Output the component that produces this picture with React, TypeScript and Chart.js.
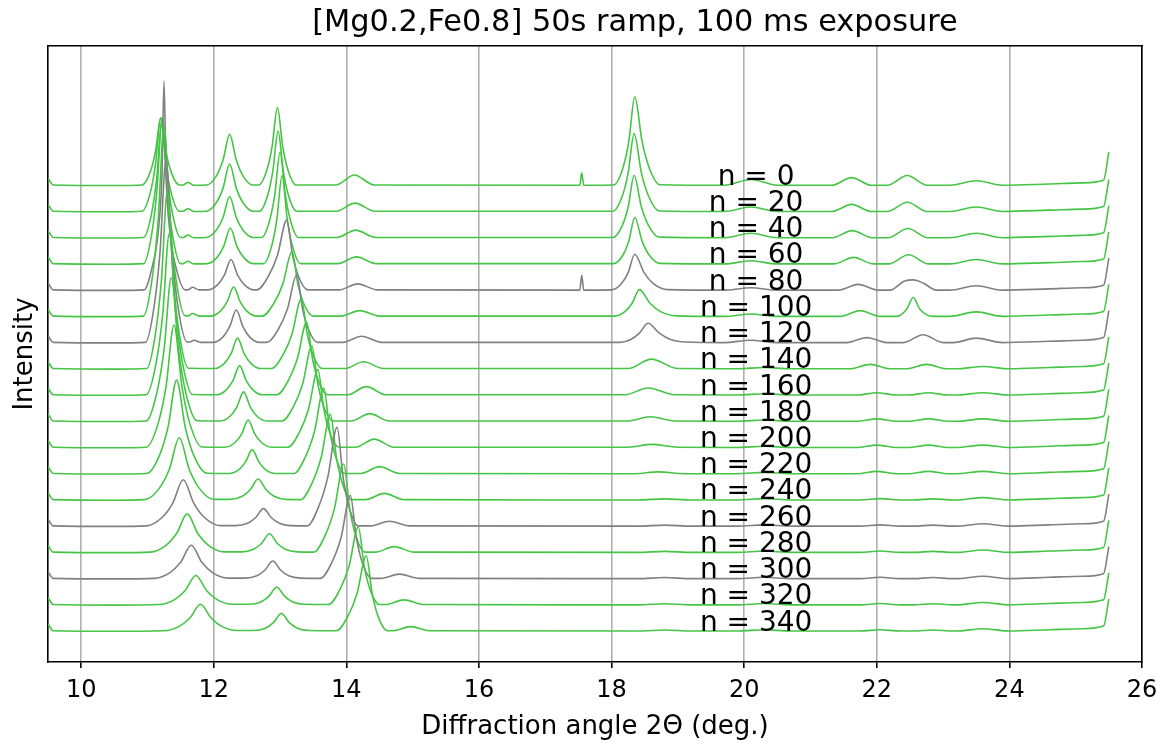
import { useEffect, useRef } from 'react';
import { Chart, registerables } from 'chart.js';

Chart.register(...registerables);

// ---------------- data ----------------
const titleText = '[Mg0.2,Fe0.8] 50s ramp, 100 ms exposure';
const xTitle = 'Diffraction angle 2\u0398 (deg.)';
const yTitle = 'Intensity';

const nValues = [0, 20, 40, 60, 80, 100, 120, 140, 160, 180, 200, 220, 240, 260, 280, 300, 320, 340];
const grayN = [80, 120, 260, 300];
const xTicks = [10, 12, 14, 16, 18, 20, 22, 24, 26];
const xTickLabels = ['10', '12', '14', '16', '18', '20', '22', '24', '26'];
const labelX = 20.18;

// shared start / end of every pattern
const lead = [[9.5, 0.3], [9.58, 0.04], [10.5, 0.02]];
const tail = [[24.6, 0.08], [25.1, 0.12], [25.42, 0.22], [25.5, 1.25]];
// small high-angle bumps of the later patterns
const highMid = [[19.9, 0.03], [20.3, 0.08], [20.7, 0.03], [21.7, 0.03], [22.0, 0.12], [22.3, 0.03], [22.48, 0.03], [22.78, 0.12], [23.08, 0.03], [23.2, 0.03], [23.6, 0.12], [24.0, 0.03]];
const highLate = [[18.4, 0.03], [18.8, 0.07], [19.2, 0.03], [19.9, 0.03], [20.3, 0.08], [20.7, 0.03], [21.75, 0.03], [22.05, 0.08], [22.35, 0.03], [22.55, 0.03], [22.85, 0.07], [23.15, 0.03], [23.2, 0.03], [23.6, 0.12], [24.0, 0.03]];

const trace0 = [...lead,
  [10.92, 0.04], [11.04, 0.52], [11.12, 1.3], [11.2, 2.6], [11.28, 1.3], [11.36, 0.52], [11.48, 0.04],
  [11.54, 0.04], [11.61, 0.14], [11.7, 0.03],
  [11.89, 0.04], [12.04, 0.39], [12.14, 0.99], [12.24, 1.97], [12.34, 0.99], [12.44, 0.39], [12.59, 0.04],
  [12.68, 0.04], [12.8, 0.6], [12.88, 1.5], [12.96, 3.0], [13.04, 1.5], [13.12, 0.6], [13.24, 0.04],
  [13.84, 0.04], [14.12, 0.42], [14.42, 0.04],
  [17.52, 0.03], [17.55, 0.5], [17.58, 0.03],
  [18.03, 0.04], [18.17, 0.68], [18.26, 1.7], [18.35, 3.4], [18.46, 1.7], [18.57, 0.68], [18.73, 0.05],
  [19.7, 0.03], [20.1, 0.25], [20.5, 0.03],
  [21.32, 0.03], [21.62, 0.32], [21.92, 0.03],
  [22.16, 0.03], [22.46, 0.4], [22.76, 0.03],
  [23.1, 0.03], [23.5, 0.2], [23.9, 0.03],
  [24.6, 0.08], [25.1, 0.12], [25.42, 0.22], [25.5, 1.3]];

const trace20 = [...lead,
  [10.92, 0.04], [11.04, 0.72], [11.12, 1.8], [11.2, 3.6], [11.28, 1.8], [11.36, 0.72], [11.48, 0.04],
  [11.54, 0.04], [11.61, 0.14], [11.7, 0.03],
  [11.89, 0.04], [12.04, 0.37], [12.14, 0.92], [12.24, 1.84], [12.34, 0.92], [12.44, 0.37], [12.59, 0.04],
  [12.69, 0.04], [12.81, 0.62], [12.89, 1.55], [12.97, 3.1], [13.05, 1.55], [13.13, 0.62], [13.25, 0.04],
  [13.85, 0.04], [14.13, 0.35], [14.43, 0.04],
  [18.02, 0.04], [18.16, 0.6], [18.25, 1.5], [18.34, 3.0], [18.45, 1.5], [18.56, 0.6], [18.72, 0.05],
  [19.7, 0.03], [20.1, 0.2], [20.5, 0.03],
  [21.32, 0.03], [21.62, 0.3], [21.92, 0.03],
  [22.16, 0.03], [22.46, 0.38], [22.76, 0.03],
  [23.1, 0.03], [23.5, 0.2], [23.9, 0.03],
  ...tail];

const trace40 = [...lead,
  [10.94, 0.04], [11.06, 0.92], [11.14, 2.3], [11.22, 4.6], [11.3, 2.3], [11.38, 0.92], [11.5, 0.04],
  [11.54, 0.04], [11.61, 0.13], [11.7, 0.03],
  [11.89, 0.04], [12.04, 0.32], [12.14, 0.8], [12.24, 1.6], [12.34, 0.8], [12.44, 0.32], [12.59, 0.04],
  [12.72, 0.04], [12.84, 0.66], [12.92, 1.65], [13.0, 3.3], [13.08, 1.65], [13.16, 0.66], [13.28, 0.04],
  [13.86, 0.04], [14.14, 0.32], [14.44, 0.04],
  [18.02, 0.04], [18.16, 0.48], [18.25, 1.2], [18.34, 2.4], [18.45, 1.2], [18.56, 0.48], [18.72, 0.05],
  [19.7, 0.03], [20.1, 0.2], [20.5, 0.03],
  [21.33, 0.03], [21.63, 0.3], [21.93, 0.03],
  [22.17, 0.03], [22.47, 0.38], [22.77, 0.03],
  [23.1, 0.03], [23.5, 0.2], [23.9, 0.03],
  ...tail];

const trace60 = [...lead,
  [10.94, 0.04], [11.06, 1.1], [11.14, 2.75], [11.22, 5.5], [11.3, 2.75], [11.38, 1.1], [11.5, 0.04],
  [11.54, 0.04], [11.61, 0.13], [11.7, 0.03],
  [11.9, 0.04], [12.05, 0.28], [12.15, 0.7], [12.25, 1.4], [12.35, 0.7], [12.45, 0.28], [12.6, 0.04],
  [12.75, 0.04], [12.87, 0.68], [12.95, 1.7], [13.03, 3.4], [13.11, 1.7], [13.19, 0.68], [13.31, 0.04],
  [13.87, 0.04], [14.15, 0.3], [14.45, 0.04],
  [18.03, 0.04], [18.17, 0.36], [18.26, 0.9], [18.35, 1.8], [18.46, 0.9], [18.57, 0.36], [18.73, 0.05],
  [19.7, 0.03], [20.1, 0.15], [20.5, 0.03],
  [21.35, 0.03], [21.65, 0.28], [21.95, 0.03],
  [22.18, 0.03], [22.48, 0.38], [22.78, 0.03],
  [23.1, 0.03], [23.5, 0.2], [23.9, 0.03],
  ...tail];

const trace80 = [...lead,
  [10.95, 0.04], [11.07, 0.9], [11.16, 2.2], [11.22, 4.5], [11.25, 8.0], [11.28, 4.5], [11.34, 2.2], [11.43, 0.9], [11.57, 0.04],
  [11.62, 0.05], [11.68, 0.14], [11.78, 0.04],
  [11.91, 0.04], [12.06, 0.24], [12.16, 0.6], [12.26, 1.2], [12.36, 0.6], [12.46, 0.24], [12.61, 0.04],
  [12.65, 0.04], [12.82, 0.54], [12.96, 1.35], [13.1, 2.7], [13.19, 1.35], [13.28, 0.54], [13.42, 0.04],
  [13.89, 0.04], [14.17, 0.27], [14.47, 0.04],
  [17.52, 0.03], [17.55, 0.6], [17.58, 0.03],
  [18.0, 0.04], [18.15, 0.28], [18.25, 0.7], [18.35, 1.4], [18.49, 0.7], [18.63, 0.28], [18.85, 0.05],
  [19.7, 0.03], [20.1, 0.12], [20.5, 0.03],
  [21.42, 0.03], [21.72, 0.25], [22.02, 0.03],
  [22.2, 0.03], [22.42, 0.38], [22.55, 0.42], [22.7, 0.3], [22.9, 0.03],
  [23.1, 0.03], [23.5, 0.2], [23.9, 0.03],
  ...tail];

const trace100 = [...lead,
  [10.94, 0.04], [11.07, 1.46], [11.16, 3.65], [11.25, 7.3], [11.34, 3.65], [11.43, 1.46], [11.57, 0.05],
  [11.62, 0.05], [11.68, 0.14], [11.78, 0.04],
  [11.95, 0.04], [12.1, 0.23], [12.2, 0.58], [12.3, 1.15], [12.4, 0.58], [12.5, 0.23], [12.65, 0.04],
  [12.73, 0.04], [12.9, 0.5], [13.04, 1.25], [13.18, 2.5], [13.27, 1.25], [13.36, 0.5], [13.5, 0.04],
  [13.92, 0.04], [14.2, 0.25], [14.5, 0.04],
  [18.05, 0.04], [18.2, 0.21], [18.31, 0.53], [18.42, 1.05], [18.58, 0.53], [18.74, 0.21], [18.98, 0.05],
  [19.7, 0.03], [20.1, 0.12], [20.5, 0.03],
  [21.45, 0.03], [21.75, 0.25], [22.05, 0.03],
  [22.3, 0.03], [22.45, 0.3], [22.55, 0.75], [22.65, 0.3], [22.85, 0.03],
  [23.1, 0.03], [23.5, 0.2], [23.9, 0.03],
  ...tail];

const trace120 = [...lead,
  [10.97, 0.04], [11.1, 1.4], [11.19, 3.5], [11.28, 7.0], [11.37, 3.5], [11.46, 1.4], [11.6, 0.05],
  [11.64, 0.05], [11.7, 0.12], [11.8, 0.04],
  [11.99, 0.04], [12.14, 0.25], [12.24, 0.64], [12.34, 1.27], [12.44, 0.64], [12.54, 0.25], [12.69, 0.04],
  [12.8, 0.04], [12.97, 0.52], [13.11, 1.3], [13.25, 2.6], [13.34, 1.3], [13.43, 0.52], [13.57, 0.04],
  [13.95, 0.04], [14.23, 0.27], [14.53, 0.04],
  [18.12, 0.04], [18.29, 0.15], [18.42, 0.39], [18.55, 0.77], [18.72, 0.39], [18.89, 0.15], [19.12, 0.05],
  [19.7, 0.03], [20.1, 0.12], [20.5, 0.03],
  [21.55, 0.03], [21.85, 0.22], [22.15, 0.03],
  [22.4, 0.03], [22.7, 0.33], [23.0, 0.03],
  [23.15, 0.03], [23.5, 0.2], [23.9, 0.03],
  ...tail];

const trace140 = [...lead,
  [10.99, 0.04], [11.12, 1.36], [11.21, 3.4], [11.3, 6.8], [11.39, 3.4], [11.48, 1.36], [11.62, 0.05],
  [12.01, 0.04], [12.16, 0.24], [12.26, 0.6], [12.36, 1.2], [12.46, 0.6], [12.56, 0.24], [12.71, 0.04],
  [12.87, 0.04], [13.04, 0.54], [13.18, 1.35], [13.32, 2.7], [13.41, 1.35], [13.5, 0.54], [13.64, 0.04],
  [13.98, 0.04], [14.26, 0.3], [14.56, 0.04],
  [18.25, 0.04], [18.6, 0.4], [19.0, 0.04],
  [19.9, 0.03], [20.3, 0.08], [20.7, 0.03],
  [21.6, 0.03], [21.9, 0.2], [22.2, 0.03],
  [22.45, 0.03], [22.75, 0.2], [23.05, 0.03],
  [23.2, 0.03], [23.6, 0.12], [24.0, 0.03],
  ...tail];

const trace160 = [...lead,
  [10.98, 0.04], [11.13, 1.24], [11.23, 3.1], [11.33, 6.2], [11.43, 3.1], [11.53, 1.24], [11.68, 0.05],
  [12.04, 0.04], [12.19, 0.23], [12.29, 0.58], [12.39, 1.15], [12.49, 0.58], [12.59, 0.23], [12.74, 0.04],
  [12.95, 0.04], [13.12, 0.56], [13.26, 1.4], [13.4, 2.8], [13.49, 1.4], [13.58, 0.56], [13.72, 0.04],
  [14.02, 0.04], [14.3, 0.35], [14.6, 0.04],
  [18.2, 0.04], [18.55, 0.3], [18.95, 0.04],
  ...highMid, ...tail];

const trace180 = [...lead,
  [10.98, 0.04], [11.14, 1.1], [11.25, 2.75], [11.36, 5.5], [11.47, 2.75], [11.58, 1.1], [11.75, 0.05],
  [12.1, 0.04], [12.25, 0.23], [12.35, 0.58], [12.45, 1.15], [12.55, 0.58], [12.65, 0.23], [12.8, 0.04],
  [13.03, 0.04], [13.2, 0.58], [13.34, 1.45], [13.48, 2.9], [13.57, 1.45], [13.66, 0.58], [13.8, 0.04],
  [14.07, 0.04], [14.35, 0.32], [14.65, 0.04],
  [18.23, 0.04], [18.58, 0.2], [18.98, 0.04],
  ...highMid, ...tail];

const trace200 = [...lead,
  [10.98, 0.04], [11.16, 0.94], [11.28, 2.35], [11.4, 4.7], [11.52, 2.35], [11.64, 0.94], [11.82, 0.05],
  [12.17, 0.04], [12.32, 0.22], [12.42, 0.54], [12.52, 1.08], [12.62, 0.54], [12.72, 0.22], [12.87, 0.04],
  [13.12, 0.04], [13.29, 0.6], [13.43, 1.5], [13.57, 3.0], [13.66, 1.5], [13.75, 0.6], [13.89, 0.04],
  [14.14, 0.04], [14.42, 0.35], [14.72, 0.04],
  [18.25, 0.04], [18.6, 0.15], [19.0, 0.04],
  ...highMid, ...tail];

const trace220 = [...lead,
  [10.99, 0.04], [11.18, 0.72], [11.31, 1.8], [11.44, 3.6], [11.57, 1.8], [11.7, 0.72], [11.9, 0.05],
  [12.23, 0.04], [12.38, 0.19], [12.48, 0.48], [12.58, 0.95], [12.68, 0.48], [12.78, 0.19], [12.93, 0.04],
  [13.21, 0.04], [13.38, 0.66], [13.52, 1.65], [13.66, 3.3], [13.75, 1.65], [13.84, 0.66], [13.98, 0.04],
  [14.22, 0.04], [14.5, 0.3], [14.8, 0.04],
  [18.35, 0.03], [18.7, 0.1], [19.1, 0.03],
  ...highMid, ...tail];

const trace240 = [...lead,
  [10.96, 0.04], [11.18, 0.48], [11.33, 1.2], [11.48, 2.4], [11.63, 1.2], [11.78, 0.48], [12.0, 0.05],
  [12.25, 0.05], [12.43, 0.17], [12.55, 0.42], [12.67, 0.83], [12.79, 0.42], [12.91, 0.17], [13.09, 0.05],
  [13.31, 0.04], [13.48, 0.66], [13.62, 1.65], [13.76, 3.3], [13.85, 1.65], [13.94, 0.66], [14.08, 0.04],
  [14.29, 0.04], [14.57, 0.28], [14.87, 0.04],
  ...highLate, ...tail];

const trace260 = [...lead,
  [10.98, 0.04], [11.22, 0.36], [11.38, 0.9], [11.54, 1.8], [11.7, 0.9], [11.86, 0.36], [12.1, 0.05],
  [12.33, 0.05], [12.51, 0.14], [12.63, 0.35], [12.75, 0.7], [12.87, 0.35], [12.99, 0.14], [13.17, 0.05],
  [13.41, 0.04], [13.58, 0.76], [13.72, 1.9], [13.86, 3.8], [13.95, 1.9], [14.04, 0.76], [14.18, 0.04],
  [14.37, 0.04], [14.65, 0.22], [14.95, 0.04],
  ...highLate, ...tail];

const trace280 = [...lead,
  [11.04, 0.04], [11.28, 0.3], [11.44, 0.75], [11.6, 1.5], [11.76, 0.75], [11.92, 0.3], [12.16, 0.05],
  [12.42, 0.05], [12.6, 0.15], [12.72, 0.37], [12.84, 0.74], [12.96, 0.37], [13.08, 0.15], [13.26, 0.05],
  [13.51, 0.04], [13.68, 0.68], [13.82, 1.7], [13.96, 3.4], [14.05, 1.7], [14.14, 0.68], [14.28, 0.04],
  [14.44, 0.04], [14.72, 0.25], [15.02, 0.04],
  ...highLate, ...tail];

const trace300 = [...lead,
  [11.1, 0.04], [11.34, 0.26], [11.5, 0.65], [11.66, 1.3], [11.82, 0.65], [11.98, 0.26], [12.22, 0.05],
  [12.47, 0.05], [12.65, 0.14], [12.77, 0.35], [12.89, 0.7], [13.01, 0.35], [13.13, 0.14], [13.31, 0.05],
  [13.61, 0.04], [13.78, 0.64], [13.92, 1.6], [14.06, 3.2], [14.15, 1.6], [14.24, 0.64], [14.38, 0.04],
  [14.52, 0.04], [14.8, 0.2], [15.1, 0.04],
  ...highLate, ...tail];

const trace320 = [...lead,
  [11.17, 0.04], [11.41, 0.23], [11.57, 0.58], [11.73, 1.15], [11.89, 0.58], [12.05, 0.23], [12.29, 0.05],
  [12.53, 0.05], [12.71, 0.14], [12.83, 0.35], [12.95, 0.7], [13.07, 0.35], [13.19, 0.14], [13.37, 0.05],
  [13.73, 0.04], [13.9, 0.6], [14.04, 1.5], [14.18, 3.0], [14.27, 1.5], [14.36, 0.6], [14.5, 0.04],
  [14.59, 0.04], [14.87, 0.22], [15.17, 0.04],
  ...highLate, ...tail];

const trace340 = [...lead,
  [11.24, 0.04], [11.48, 0.21], [11.64, 0.53], [11.8, 1.05], [11.96, 0.53], [12.12, 0.21], [12.36, 0.05],
  [12.6, 0.05], [12.78, 0.14], [12.9, 0.35], [13.02, 0.7], [13.14, 0.35], [13.26, 0.14], [13.44, 0.05],
  [13.85, 0.04], [14.02, 0.58], [14.16, 1.45], [14.3, 2.9], [14.39, 1.45], [14.48, 0.58], [14.62, 0.04],
  [14.69, 0.04], [14.97, 0.2], [15.27, 0.04],
  ...highLate, ...tail];

const traces = [trace0, trace20, trace40, trace60, trace80, trace100, trace120, trace140, trace160,
  trace180, trace200, trace220, trace240, trace260, trace280, trace300, trace320, trace340];

// ---------------- styling ----------------
const GREEN = '#45c545';
const GRAY = '#808080';
const FONT = '"DejaVu Sans", "Liberation Sans", sans-serif';
const X_MIN = 9.5;
const X_MAX = 26;
const Y_MIN = -1.15;
const Y_MAX = 22.34;

const textPlugin = {
  id: 'stackTexts',
  afterDatasetsDraw(chart: any) {
    const { ctx, scales, chartArea } = chart;
    const x = scales.x;
    const y = scales.y;
    const count = nValues.length;
    ctx.save();
    ctx.fillStyle = '#000';
    ctx.font = `28px ${FONT}`;
    ctx.textAlign = 'center';
    ctx.textBaseline = 'alphabetic';
    nValues.forEach((n, k) => {
      const offset = count - 1 - k;
      ctx.fillText(`n = ${n}`, x.getPixelForValue(labelX), y.getPixelForValue(offset + 0.05));
    });
    ctx.font = `30.4px ${FONT}`;
    ctx.textBaseline = 'middle';
    ctx.fillText(titleText, (chartArea.left + chartArea.right) / 2 + 40, 23);
    ctx.restore();
  },
};

export default function App() {
  const canvasRef = useRef<HTMLCanvasElement | null>(null);

  useEffect(() => {
    const canvas = canvasRef.current;
    if (!canvas) return;
    const count = nValues.length;
    const datasets = traces.map((pts, k) => {
      const offset = count - 1 - k;
      const isGray = grayN.includes(nValues[k]);
      return {
        label: `n = ${nValues[k]}`,
        data: pts.map(([px, py]) => ({ x: px, y: py + offset })),
        borderColor: isGray ? GRAY : GREEN,
        borderWidth: 1.6,
        pointRadius: 0,
        fill: false,
        cubicInterpolationMode: 'monotone' as const,
        order: count - 1 - k,
      };
    });

    const chart = new Chart(canvas, {
      type: 'line',
      data: { datasets },
      options: {
        animation: false,
        responsive: false,
        devicePixelRatio: 1,
        layout: { padding: { top: 46, left: 0, right: 0, bottom: 0 } },
        plugins: {
          legend: { display: false },
          tooltip: { enabled: false },
          title: { display: false },
        },
        scales: {
          x: {
            type: 'linear',
            position: 'bottom',
            min: X_MIN,
            max: X_MAX,
            afterBuildTicks: (s: any) => {
              s.ticks = xTicks.map((v) => ({ value: v }));
            },
            ticks: {
              color: '#000',
              font: { family: FONT, size: 24 },
              padding: 8,
              maxRotation: 0,
              autoSkip: false,
              callback: (v: any) => {
                const i = xTicks.indexOf(Number(v));
                return i >= 0 ? xTickLabels[i] : '';
              },
            },
            grid: {
              color: '#b0b0b0',
              lineWidth: 1.6,
              tickColor: '#000',
              tickLength: 6,
              tickWidth: 1.6,
              drawTicks: true,
            },
            border: { display: true, color: '#000', width: 1.6 },
            title: {
              display: true,
              text: xTitle,
              color: '#000',
              font: { family: FONT, size: 26 },
              padding: { top: 4, bottom: 6 },
            },
            afterFit: (s: any) => {
              s.height = 87;
              s.paddingLeft = 0;
              s.paddingRight = 0;
            },
          },
          xTop: {
            type: 'linear',
            position: 'top',
            min: X_MIN,
            max: X_MAX,
            ticks: { display: false },
            grid: { display: false, drawTicks: false },
            border: { display: true, color: '#000', width: 1.6 },
            afterFit: (s: any) => {
              s.height = 0;
              s.paddingLeft = 0;
              s.paddingRight = 0;
            },
          },
          y: {
            type: 'linear',
            position: 'left',
            min: Y_MIN,
            max: Y_MAX,
            ticks: { display: false },
            grid: { display: false, drawTicks: false },
            border: { display: true, color: '#000', width: 1.6 },
            title: {
              display: true,
              text: yTitle,
              color: '#000',
              font: { family: FONT, size: 26 },
              padding: { top: 10, bottom: 0 },
            },
            afterFit: (s: any) => {
              s.width = 48;
            },
          },
          yRight: {
            type: 'linear',
            position: 'right',
            min: 0,
            max: 1,
            ticks: { display: false },
            grid: { display: false, drawTicks: false },
            border: { display: true, color: '#000', width: 1.6 },
            afterFit: (s: any) => {
              s.width = 19;
            },
          },
        },
      },
      plugins: [textPlugin],
    });

    return () => {
      chart.destroy();
    };
  }, []);

  return (
    <div style={{ position: 'fixed', left: 0, top: 0, width: 1161, height: 749, background: '#fff' }}>
      <canvas ref={canvasRef} width={1161} height={749} />
    </div>
  );
}
